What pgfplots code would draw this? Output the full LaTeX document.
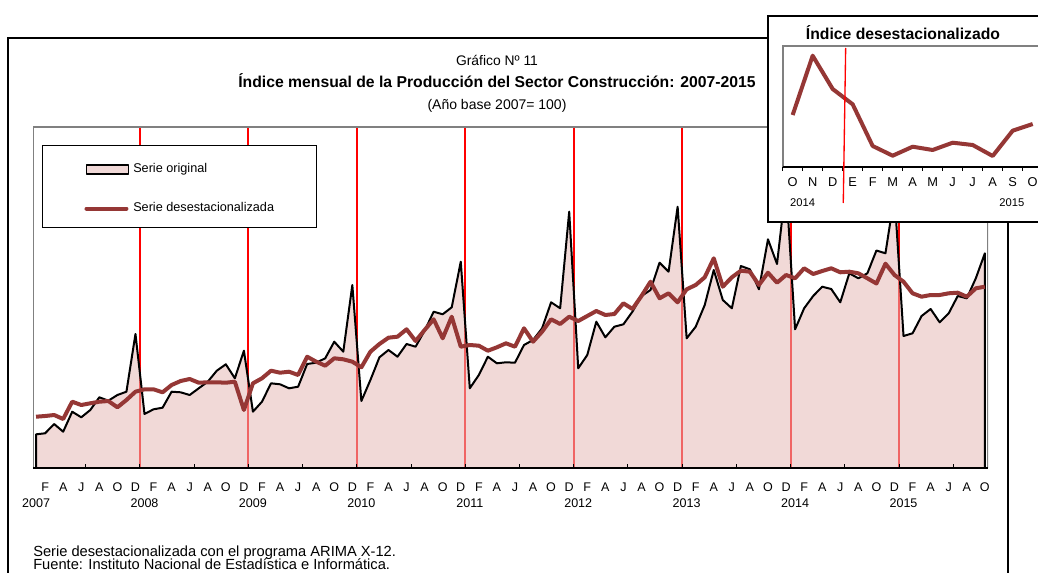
\documentclass[border=0pt]{standalone}
\usepackage{pgfplots}
\usepackage{pgfplotstable}
\pgfplotsset{compat=1.18}
\usepackage{fontspec}
\setmainfont{Liberation Sans}
\definecolor{fillpink}{RGB}{229,185,183}
\definecolor{serbrown}{RGB}{149,55,53}
\definecolor{framegray}{RGB}{128,128,128}

\pgfplotstableread{
m orig sa
0 33.7 51.3
1 34.7 52
2 44 53
3 36.3 49
4 56.3 66.3
5 50.7 63
6 58 64.7
7 70.7 66.3
8 67.3 67
9 73 60.7
10 76.3 68
11 134 76.3
12 54 78.7
13 58.7 78.7
14 60.3 75.7
15 76.3 83
16 75.7 87
17 73 89
18 79.7 85.3
19 86.3 85.7
20 97.3 85.7
21 103.7 85.3
22 89.7 86.3
23 117.3 58
24 56.3 84.7
25 66.3 89.7
26 84.7 97.3
27 83.7 95.3
28 79.7 96.3
29 81.3 93
30 104 111.3
31 105.3 106.3
32 109.7 102.3
33 126.3 109.7
34 116.3 108.7
35 183 106.3
36 67 100.7
37 88 116.3
38 110.7 124
39 118 130.3
40 111.3 131.3
41 124 138.7
42 121.3 127
43 137.3 138
44 156.3 148.7
45 153.7 129.7
46 160.7 151.3
47 206.3 121.3
48 79.7 123
49 93 122.3
50 111.3 117.3
51 104.7 120.7
52 105.7 124.7
53 105.3 121.3
54 123 139.7
55 128 126.3
56 139.7 136.3
57 165.7 148.7
58 159.7 144
59 256.3 151.3
60 99.7 147
61 113 152
62 146.3 157
63 130.7 153
64 141.3 154
65 143.7 164.7
66 156.3 159
67 172 172
68 178 186.3
69 205.3 169.7
70 196.3 174.7
71 261.3 165.7
72 129.7 178.7
73 141.3 183
74 163 190.7
75 198 209.7
76 168 181.3
77 159.7 190.7
78 202 197.3
79 198.7 196.3
80 178.7 183
81 228.7 195.3
82 204 185.3
83 283 193
84 138.7 189.7
85 159.7 199.7
86 172 194
87 181.3 197
88 179 199.7
89 165.7 195.7
90 194.7 196.3
91 189.7 194.7
92 194.7 189.7
93 217.5 184.5
94 214.7 204.3
95 273 193
96 132 186.3
97 134.7 174.7
98 152 171.3
99 159 173
100 145.7 173
101 154.7 174.7
102 172 175.3
103 169.7 171.3
104 189.7 179.7
105 214.7 181.3
}\datatable

\pgfplotstableread{
i v
0 52
1 111.3
2 78
3 62.7
4 21
5 11.3
6 20.3
7 17
8 24.3
9 22
10 11
11 36.3
12 43
}\insettable

\begin{document}
\begin{tikzpicture}
\useasboundingbox (0,0) rectangle (778.5pt,429pt);
% outer frame
\draw[line width=1.5pt] (6pt,-3pt) -- (6pt,400.5pt) -- (577pt,400.5pt);
\draw[line width=1.5pt] (756pt,262.5pt) -- (756pt,-3pt);

% titles
\node[anchor=base, font=\fontsize{10.4}{12}\selectfont] at (372.75pt,379.5pt) {Gráfico Nº 11};
\node[anchor=base, font=\bfseries\fontsize{11.8}{14}\selectfont] at (372.75pt,363pt) {Índice mensual de la Producción del Sector Construcción: 2007-2015};
\node[anchor=base, font=\fontsize{10.5}{12}\selectfont] at (372.75pt,346.9pt) {(Año base 2007= 100)};

\begin{axis}[
  at={(24.75pt,78pt)}, anchor=south west,
  width=716.25pt, height=255.75pt, scale only axis,
  xmin=-0.34, xmax=105.35, ymin=0, ymax=341,
  axis on top,
  axis line style={draw=none},
  ytick=\empty,
  xtick={1,3,...,105},
  xticklabels={F,A,J,A,O,D,F,A,J,A,O,D,F,A,J,A,O,D,F,A,J,A,O,D,F,A,J,A,O,D,F,A,J,A,O,D,F,A,J,A,O,D,F,A,J,A,O,D,F,A,J,A,O},
  major tick length=0pt,
  minor xtick={5.5,11.5,...,101.5},
  minor tick length=3pt,
  tick align=inside,
  xtick pos=left,
  minor tick style={black, line width=0.75pt},
  xticklabel style={font=\fontsize{9.4}{11}\selectfont, anchor=base, yshift=-17.6pt},
  extra x ticks={0,12,24,36,48,60,72,84,96},
  extra x tick labels={2007,2008,2009,2010,2011,2012,2013,2014,2015},
  extra x tick style={major tick length=0pt, xticklabel style={yshift=-12pt}},
  legend style={at={(0.0094,0.9472)}, anchor=north west, draw=black, line width=0.75pt,
    inner xsep=31.5pt, inner ysep=9.75pt, column sep=3pt, row sep=20.25pt,
    font=\fontsize{9.5}{11}\selectfont,
    nodes={inner sep=0pt, text height=7pt, text depth=2pt}},
  legend cell align=left,
]
\pgfplotsinvokeforeach{11.5,23.5,35.5,47.5,59.5,71.5,83.5,95.5}{
  \draw[red, line width=1.5pt] (axis cs:#1,0) -- (axis cs:#1,341);
}
\addplot[fill=fillpink, fill opacity=0.55, draw=black, line width=1.5pt, line join=round,
  legend image code/.code={
    \path[draw=none, fill=none] (0pt,-0.1pt) rectangle (0.1pt,8.25pt);
    \draw[black, line width=1.2pt, fill=fillpink, fill opacity=0.55] (1.5pt,-3.4pt) rectangle (33pt,3.4pt);
  }] table[x=m,y=orig]{\datatable} \closedcycle;
\addlegendentry{Serie original}
\addplot[serbrown, line width=3pt, line join=round,
  legend image code/.code={
    \path[draw=none, fill=none] (0pt,-0.1pt) rectangle (0.1pt,0.1pt);
    \draw[serbrown, line width=3pt, line cap=round] (1.5pt,0pt) -- (31.5pt,0pt);
  }] table[x=m,y=sa]{\datatable};
\addlegendentry{Serie desestacionalizada}
\draw[framegray, line width=1.5pt] (rel axis cs:0,0) -- (rel axis cs:0,1) -- (rel axis cs:1,1) -- (rel axis cs:1,0);
\draw[black, line width=1.5pt] (rel axis cs:0,0) -- (rel axis cs:1,0);
\end{axis}

% footnotes
\node[anchor=base west, font=\fontsize{11}{12}\selectfont, inner sep=0pt] at (24.75pt,11.5pt) {Serie desestacionalizada con el programa ARIMA X-12.};
\node[anchor=base west, font=\fontsize{11}{12}\selectfont, inner sep=0pt] at (24.75pt,1.6pt) {Fuente: Instituto Nacional de Estadística e Informática.};

% inset
\draw[line width=2pt, fill=white] (576pt,262.5pt) rectangle (790pt,417pt);
\node[anchor=base, font=\bfseries\fontsize{11.8}{14}\selectfont] at (677.25pt,399.4pt) {Índice desestacionalizado};
\begin{axis}[
  at={(587pt,303.75pt)}, anchor=south west,
  width=195pt, height=90.75pt, scale only axis,
  xmin=-0.5, xmax=12.5, ymin=0, ymax=121,
  clip=false,
  axis on top,
  axis line style={draw=none},
  ytick=\empty,
  xtick={0,...,12},
  xticklabels={O,N,D,E,F,M,A,M,J,J,A,S,O},
  major tick length=0pt,
  minor xtick={-0.5,0.5,...,12.5},
  minor tick length=3pt,
  tick align=outside,
  xtick pos=left,
  minor tick style={black, line width=0.75pt},
  xticklabel style={font=\fontsize{9.6}{11}\selectfont, anchor=base, yshift=-15pt},
  extra x ticks={0.5,10.96},
  extra x tick labels={2014,2015},
  extra x tick style={major tick length=0pt, xticklabel style={font=\fontsize{8.4}{10}\selectfont, yshift=-15pt}},
]
\addplot[serbrown, line width=3pt, line join=round] table[x=i,y=v]{\insettable};
\draw[framegray, line width=1.5pt] (rel axis cs:0,0) -- (rel axis cs:0,1) -- (rel axis cs:1,1) -- (rel axis cs:1,0);
\draw[black, line width=1.5pt] (rel axis cs:0,0) -- (rel axis cs:1,0);
\draw[red, line width=1pt] (axis cs:2.65,119) -- (axis cs:2.53,-36);
\end{axis}
\end{tikzpicture}
\end{document}
